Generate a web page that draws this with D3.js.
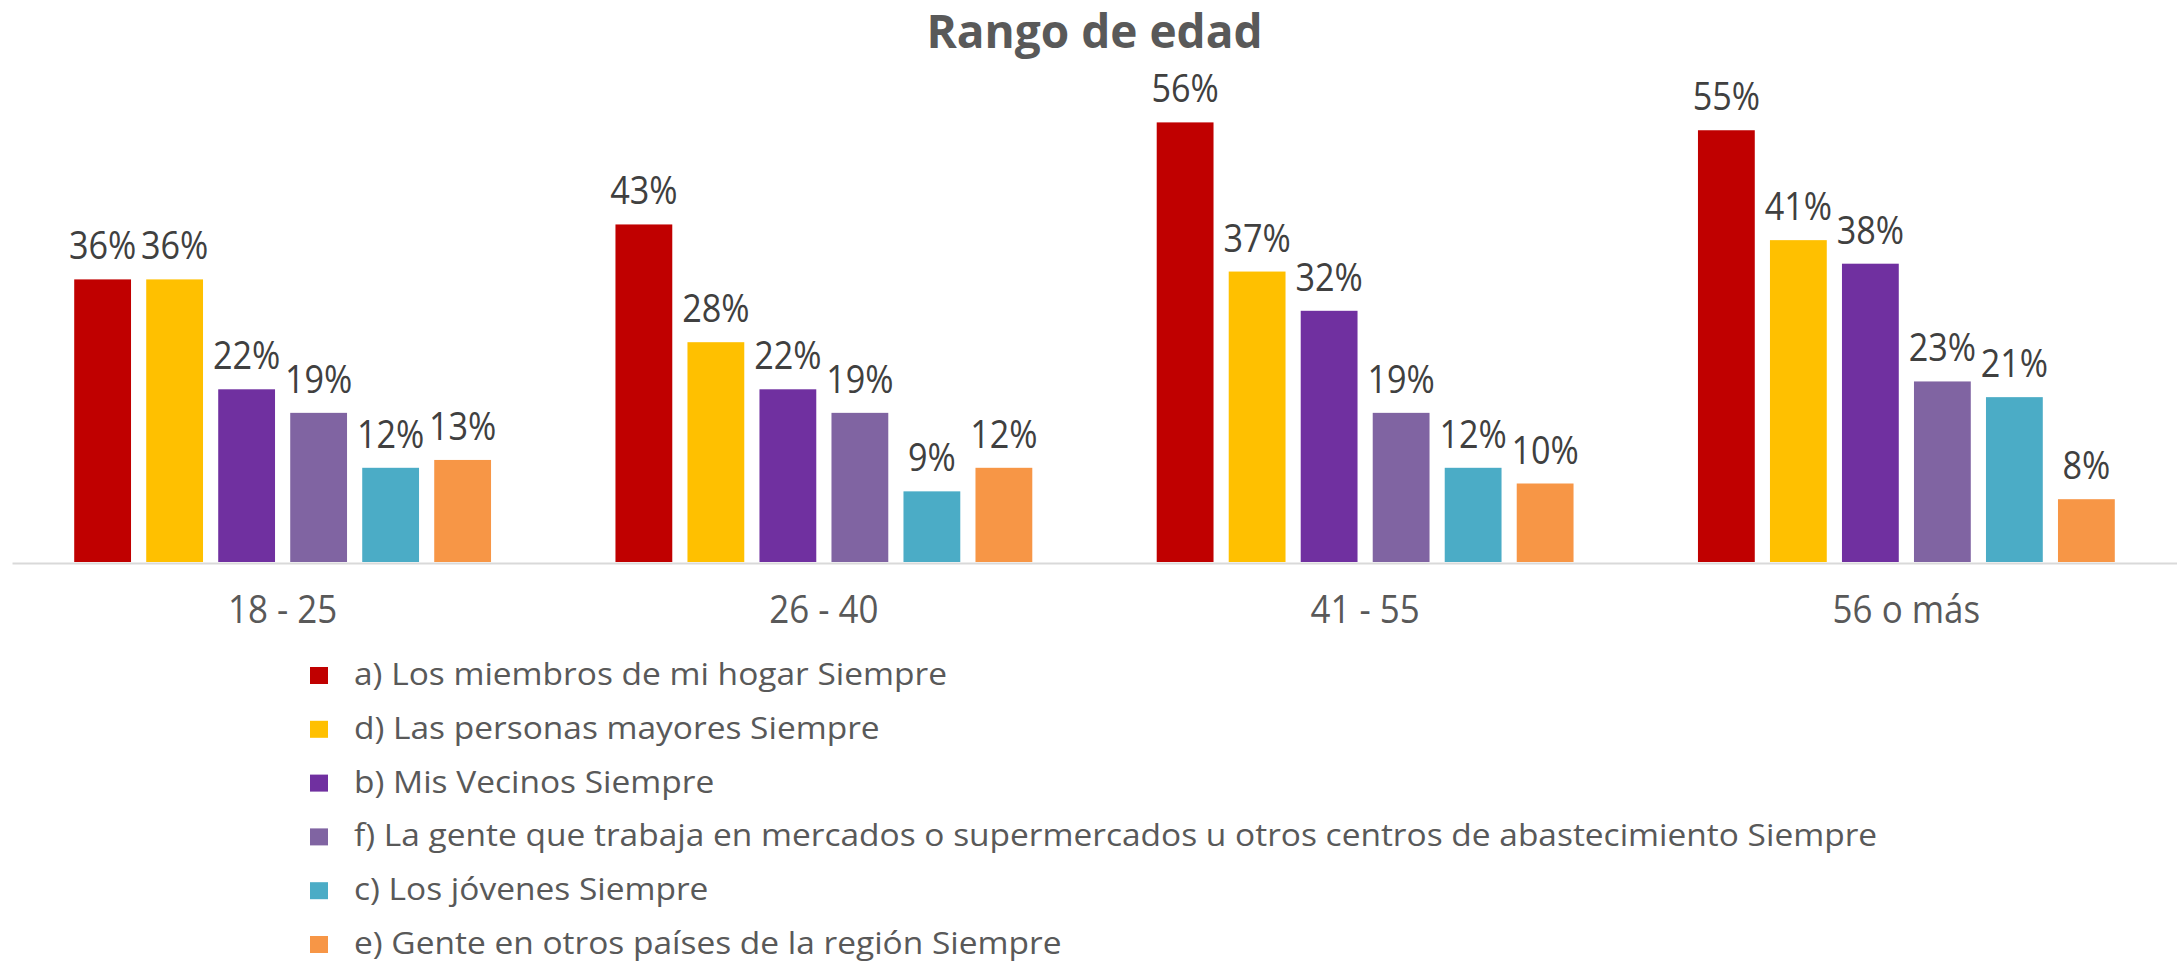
<!DOCTYPE html>
<html lang="es">
<head>
<meta charset="utf-8">
<title>Rango de edad</title>
<script src="https://cdn.jsdelivr.net/npm/d3@7"></script>
<style>
  html, body { margin: 0; padding: 0; background: #ffffff; }
  svg { display: block; font-family: "Open Sans", "Noto Sans", sans-serif; }
</style>
</head>
<body>
<svg id="chart" width="2177" height="965"></svg>
<script>
// Age groups along the x axis
const ageGroups = ["18 - 25", "26 - 40", "41 - 55", "56 o más"];

// Series, in drawing / legend order
const seriesNames = [
  "a) Los miembros de mi hogar Siempre",
  "d) Las personas mayores Siempre",
  "b) Mis Vecinos Siempre",
  "f) La gente que trabaja en mercados o supermercados u otros centros de abastecimiento Siempre",
  "c) Los jóvenes Siempre",
  "e) Gente en otros países de la región Siempre"
];

// Percentages per series, one value per age group
const hogar       = [36, 43, 56, 55];
const mayores     = [36, 28, 37, 41];
const vecinos     = [22, 22, 32, 38];
const mercados    = [19, 19, 19, 23];
const jovenes     = [12,  9, 12, 21];
const otrosPaises = [13, 12, 10,  8];

const seriesValues = [hogar, mayores, vecinos, mercados, jovenes, otrosPaises];
const seriesColors = ["#C00000", "#FFC000", "#7030A0", "#8064A2", "#4BACC6", "#F79646"];

const svg = d3.select("#chart");

const plot = { left: 12, right: 2177, top: 91, bottom: 562 };

const x0 = d3.scaleBand()
  .domain(ageGroups)
  .range([plot.left, plot.right])
  .paddingInner(0)
  .paddingOuter(0);

const x1 = d3.scaleBand()
  .domain(d3.range(seriesNames.length))
  .range([0, x0.bandwidth()])
  .paddingInner(0.211)
  .paddingOuter(0.864);

const y = d3.scaleLinear()
  .domain([0, 60])
  .range([plot.bottom, plot.top]);

// Title
svg.append("text")
  .attr("x", (plot.left + plot.right) / 2)
  .attr("y", 48)
  .attr("text-anchor", "middle")
  .attr("font-size", 46)
  .attr("font-weight", 700)
  .attr("fill", "#595959")
  .text("Rango de edad");

// Bars and value labels
const groups = svg.append("g")
  .selectAll("g")
  .data(ageGroups)
  .join("g")
  .attr("transform", d => `translate(${x0(d)},0)`);

const cells = groups.selectAll("g")
  .data((g, gi) => seriesValues.map((vals, si) => ({ si, value: vals[gi] })))
  .join("g");

cells.append("rect")
  .attr("x", d => x1(d.si))
  .attr("width", x1.bandwidth())
  .attr("y", d => y(d.value))
  .attr("height", d => y(0) - y(d.value))
  .attr("fill", d => seriesColors[d.si]);

// Narrow, tall figures for the value labels
cells.append("text")
  .attr("transform", d =>
    `translate(${x1(d.si) + x1.bandwidth() / 2},${y(d.value) - 20}) scale(0.9,1)`)
  .attr("text-anchor", "middle")
  .attr("font-size", 38)
  .attr("fill", "#404040")
  .text(d => d.value + "%");

// Category axis
const xAxis = svg.append("g")
  .attr("transform", `translate(0,${plot.bottom + 1})`)
  .call(d3.axisBottom(x0).tickSize(0).tickSizeOuter(0));

xAxis.select(".domain")
  .attr("stroke", "#D9D9D9")
  .attr("stroke-width", 2);

xAxis.selectAll(".tick text")
  .attr("y", null)
  .attr("dy", null)
  .attr("transform", "translate(0,60) scale(0.92,1)")
  .attr("font-size", 38)
  .attr("font-family", "\"Open Sans\", \"Noto Sans\", sans-serif")
  .attr("fill", "#595959");

// Legend
const legend = svg.append("g")
  .attr("transform", "translate(310,667)");

const items = legend.selectAll("g")
  .data(seriesNames)
  .join("g")
  .attr("transform", (d, i) => `translate(0,${i * 53.8})`);

items.append("rect")
  .attr("width", 18)
  .attr("height", 17)
  .attr("fill", (d, i) => seriesColors[i]);

// Wide legend lettering
items.append("text")
  .attr("transform", "translate(44,18) scale(1.08,1)")
  .attr("font-size", 31)
  .attr("fill", "#595959")
  .text(d => d);
</script>
</body>
</html>
